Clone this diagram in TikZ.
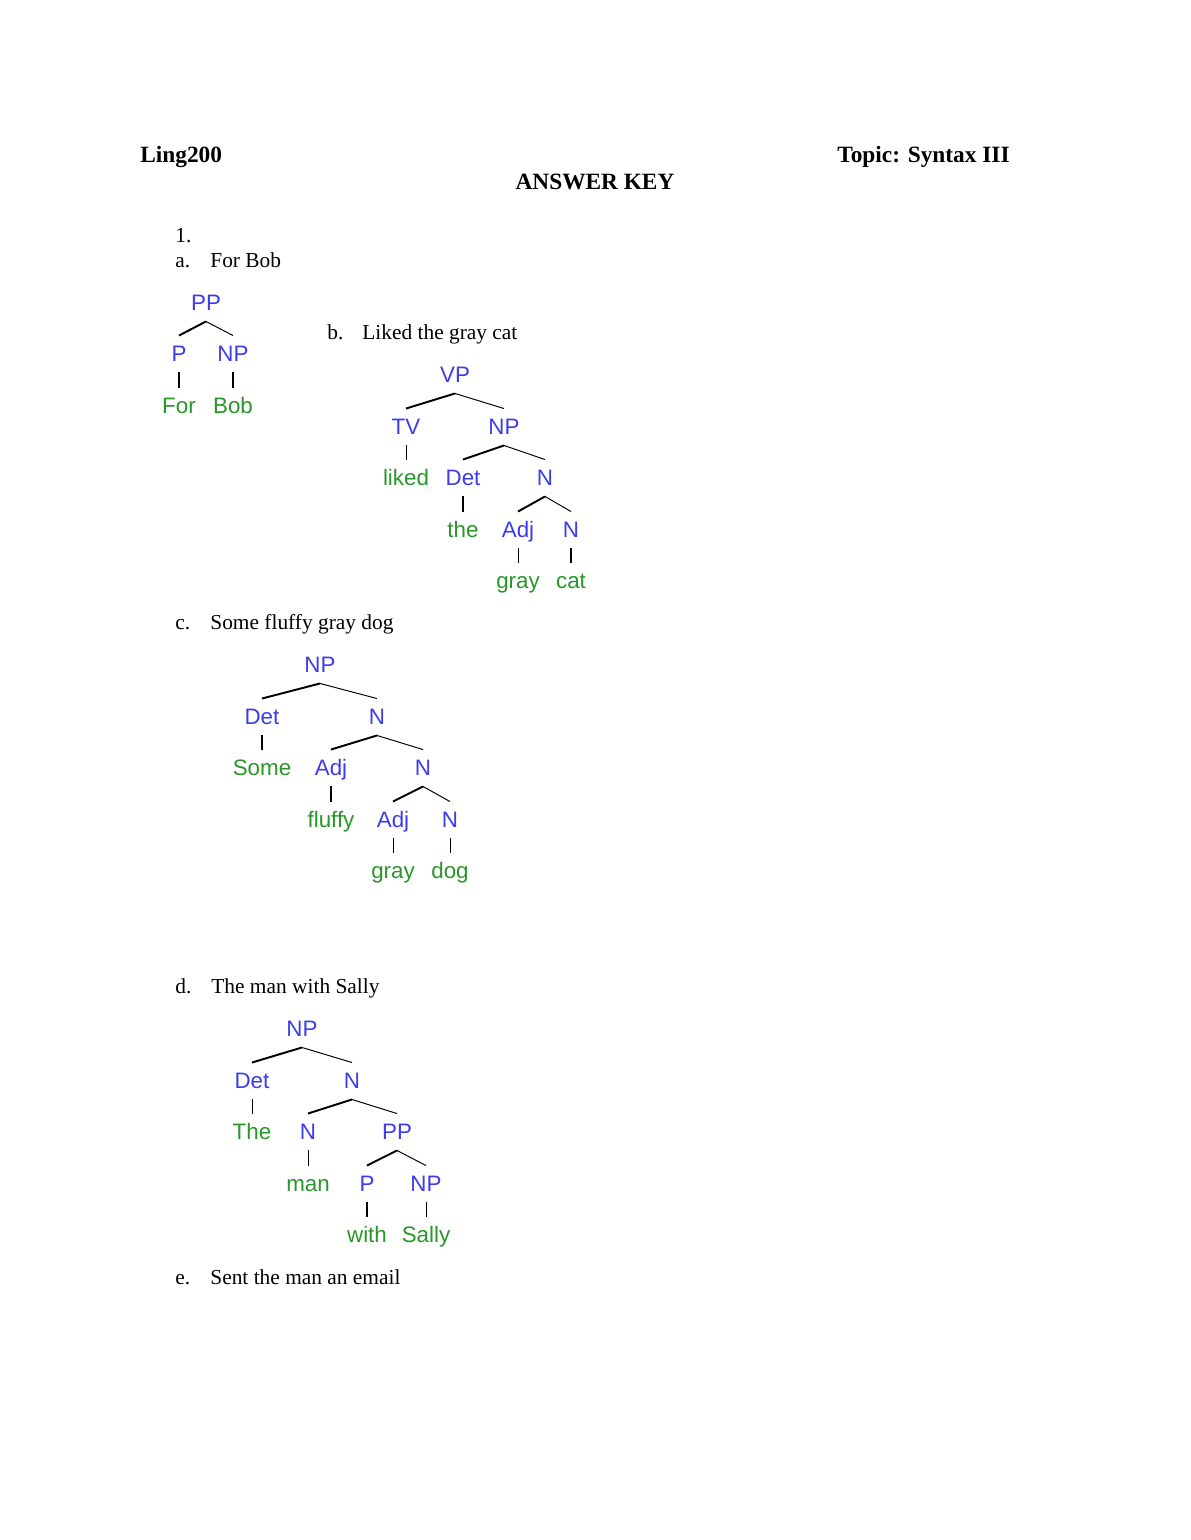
\documentclass[tikz,border=0pt]{standalone}
\usepackage{fontspec}
\setmainfont{Liberation Serif}
\newfontfamily\treefont{Liberation Sans}
\definecolor{catblue}{RGB}{60,60,235}
\definecolor{wordgreen}{RGB}{40,150,40}

\begin{document}
\begin{tikzpicture}[x=0.5143pt, y=-0.5143pt,
  category/.style = {text=catblue, font=\treefont\fontsize{11.5pt}{13pt}\selectfont,
                     text height=8.2pt, text depth=0pt, inner ysep=5.2pt, inner xsep=1pt},
  word/.style = {category, text=wordgreen},
  body/.style = {anchor=base west, inner sep=0pt, font=\fontsize{11pt}{13pt}\selectfont},
  header/.style = {inner sep=0pt, font=\bfseries\fontsize{12pt}{14pt}\selectfont},
  heavyedge/.style = {line width=1pt},
  lightedge/.style = {line width=0.5pt}]
  \useasboundingbox (0, 0) rectangle (1190, 1540);

  % Heading.
  \node at (140, 162) [header, anchor=base west, name=Course] {Ling200};
  \node at (1010, 162) [header, anchor=base east, name=Topic] {Topic: Syntax III};
  \node at (595, 189) [header, anchor=base, name=Key] {ANSWER KEY};

  % Questions.
  \node at (175, 242) [body, name=QuestionOne] {1.};
  \node at (175, 267) [body, name=ItemA] {a.};
  \node at (210, 267) [body, name=PhraseA] {For Bob};
  \node at (327, 339) [body, name=ItemB] {b.};
  \node at (362, 339) [body, name=PhraseB] {Liked the gray cat};
  \node at (175, 629) [body, name=ItemC] {c.};
  \node at (210, 629) [body, name=PhraseC] {Some fluffy gray dog};
  \node at (175, 993) [body, name=ItemD] {d.};
  \node at (211, 993) [body, name=PhraseD] {The man with Sally};
  \node at (175, 1284) [body, name=ItemE] {e.};
  \node at (210, 1284) [body, name=PhraseE] {Sent the man an email};

  % Tree a.
  \node at (206, 303) [category, name=aPP] {PP};
  \node at (179, 354) [category, name=aP] {P};
  \node at (233, 354) [category, name=aNP] {NP};
  \node at (179, 406) [word, name=aFor] {For};
  \node at (233, 406) [word, name=aBob] {Bob};

  \draw [heavyedge] (aPP.south) to (aP.north);
  \draw [lightedge] (aPP.south) to (aNP.north);
  \draw [heavyedge] (aP.south) to (aFor.north);
  \draw [heavyedge] (aNP.south) to (aBob.north);

  % Tree b.
  \node at (455, 375) [category, name=bVP] {VP};
  \node at (406, 427) [category, name=bTV] {TV};
  \node at (504, 427) [category, name=bNP] {NP};
  \node at (406, 478) [word, name=bLiked] {liked};
  \node at (463, 478) [category, name=bDet] {Det};
  \node at (545, 478) [category, name=bN] {N};
  \node at (463, 530) [word, name=bThe] {the};
  \node at (518, 530) [category, name=bAdj] {Adj};
  \node at (571, 530) [category, name=bNoun] {N};
  \node at (518, 581) [word, name=bGray] {gray};
  \node at (571, 581) [word, name=bCat] {cat};

  \draw [heavyedge] (bVP.south) to (bTV.north);
  \draw [lightedge] (bVP.south) to (bNP.north);
  \draw [lightedge] (bTV.south) to (bLiked.north);
  \draw [heavyedge] (bNP.south) to (bDet.north);
  \draw [lightedge] (bNP.south) to (bN.north);
  \draw [heavyedge] (bDet.south) to (bThe.north);
  \draw [heavyedge] (bN.south) to (bAdj.north);
  \draw [lightedge] (bN.south) to (bNoun.north);
  \draw [lightedge] (bAdj.south) to (bGray.north);
  \draw [heavyedge] (bNoun.south) to (bCat.north);

  % Tree c.
  \node at (320, 665) [category, name=cNP] {NP};
  \node at (262, 717) [category, name=cDet] {Det};
  \node at (377, 717) [category, name=cN] {N};
  \node at (262, 768) [word, name=cSome] {Some};
  \node at (331, 768) [category, name=cAdj] {Adj};
  \node at (423, 768) [category, name=cNbar] {N};
  \node at (331, 820) [word, name=cFluffy] {fluffy};
  \node at (393, 820) [category, name=cAdjGray] {Adj};
  \node at (450, 820) [category, name=cNoun] {N};
  \node at (393, 871) [word, name=cGray] {gray};
  \node at (450, 871) [word, name=cDog] {dog};

  \draw [heavyedge] (cNP.south) to (cDet.north);
  \draw [lightedge] (cNP.south) to (cN.north);
  \draw [heavyedge] (cDet.south) to (cSome.north);
  \draw [heavyedge] (cN.south) to (cAdj.north);
  \draw [lightedge] (cN.south) to (cNbar.north);
  \draw [heavyedge] (cAdj.south) to (cFluffy.north);
  \draw [heavyedge] (cNbar.south) to (cAdjGray.north);
  \draw [lightedge] (cNbar.south) to (cNoun.north);
  \draw [lightedge] (cAdjGray.south) to (cGray.north);
  \draw [lightedge] (cNoun.south) to (cDog.north);

  % Tree d.
  \node at (302, 1029) [category, name=dNP] {NP};
  \node at (252, 1081) [category, name=dDet] {Det};
  \node at (352, 1081) [category, name=dN] {N};
  \node at (252, 1132) [word, name=dThe] {The};
  \node at (308, 1132) [category, name=dNoun] {N};
  \node at (397, 1132) [category, name=dPP] {PP};
  \node at (308, 1184) [word, name=dMan] {man};
  \node at (367, 1184) [category, name=dP] {P};
  \node at (426, 1184) [category, name=dNPSally] {NP};
  \node at (367, 1235) [word, name=dWith] {with};
  \node at (426, 1235) [word, name=dSally] {Sally};

  \draw [heavyedge] (dNP.south) to (dDet.north);
  \draw [lightedge] (dNP.south) to (dN.north);
  \draw [lightedge] (dDet.south) to (dThe.north);
  \draw [heavyedge] (dN.south) to (dNoun.north);
  \draw [lightedge] (dN.south) to (dPP.north);
  \draw [lightedge] (dNoun.south) to (dMan.north);
  \draw [heavyedge] (dPP.south) to (dP.north);
  \draw [lightedge] (dPP.south) to (dNPSally.north);
  \draw [heavyedge] (dP.south) to (dWith.north);
  \draw [lightedge] (dNPSally.south) to (dSally.north);
\end{tikzpicture}
\end{document}
